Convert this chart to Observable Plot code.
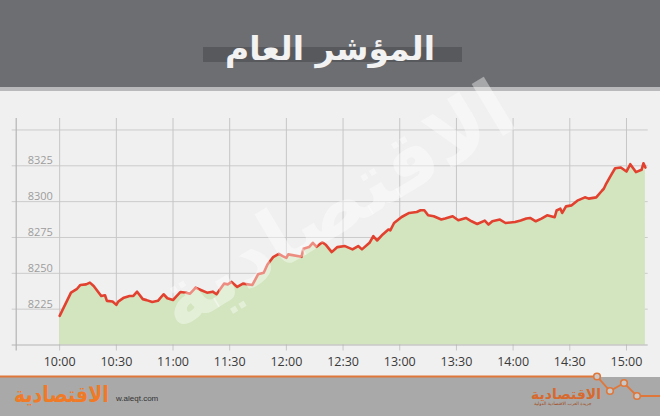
<!DOCTYPE html>
<html>
<head>
<meta charset="utf-8">
<script src="https://cdn.jsdelivr.net/npm/d3@7"></script>
<script src="https://cdn.jsdelivr.net/npm/@observablehq/plot@0.6"></script>
<style>
  html, body { margin: 0; padding: 0; background: #f0f0f0; }
  #page { position: relative; width: 660px; height: 416px; overflow: hidden; background: #f0f0f0; font-family: "Open Sans", "DejaVu Sans", sans-serif; }
  #header { position: absolute; left: 0; top: 0; width: 660px; height: 87px; background: #6d6e72; }
  #strip { position: absolute; left: 0; top: 87px; width: 660px; height: 4px; background: #b9b9bb; }
  #band { position: absolute; left: 203px; top: 47px; width: 259px; height: 15px; background: #58595c; }
  #title { position: absolute; left: 0; top: 27px; width: 660px; text-align: center; direction: rtl;
           font-family: "DejaVu Sans", sans-serif; font-weight: bold; font-size: 33px; color: #f2f2f2; line-height: 44px; }
  #chart { position: absolute; left: 0; top: 91px; }
  #watermark { position: absolute; left: 335px; top: 205px; transform: translate(-50%, -50%) rotate(-31deg);
               font-family: "DejaVu Sans", sans-serif; font-weight: bold; font-size: 80px; color: rgba(255,255,255,0.4);
               white-space: nowrap; direction: rtl; pointer-events: none; }
  #footer { position: absolute; left: 0; top: 377px; width: 660px; height: 39px; background: #a9a9a9; }
  #logoL { position: absolute; left: 14px; top: 380px; direction: rtl; font-family: "DejaVu Sans", sans-serif; font-weight: bold;
           font-size: 22px; color: #f07a26; line-height: 30px; transform: scaleX(0.86); transform-origin: 0 50%; }
  #url { position: absolute; left: 116px; top: 394px; font-family: "Liberation Sans", sans-serif; font-size: 8px; color: #333; }
  #logoR { position: absolute; left: 531px; top: 386px; direction: rtl; font-family: "DejaVu Sans", sans-serif; font-weight: bold;
           font-size: 14px; color: #d8692e; line-height: 16px; }
  #logoRsub { position: absolute; left: 534px; top: 401px; direction: rtl; font-family: "DejaVu Sans", sans-serif;
              font-size: 4.5px; color: #a04a20; line-height: 5px; }
  #deco { position: absolute; left: 0; top: 0; pointer-events: none; }
</style>
</head>
<body>
<div id="page">
  <div id="header"></div>
  <div id="strip"></div>
  <div id="band"></div>
  <div id="title">المؤشر العام</div>
  <div id="chart"></div>
  <div id="watermark">الاقتصادية</div>
  <div id="footer"></div>
  <div id="logoL">الاقتصادية</div>
  <div id="url">w.aleqt.com</div>
  <div id="logoR">الاقتصادية</div>
  <div id="logoRsub">جريدة العرب الاقتصادية الدولية</div>
  <svg id="deco" width="660" height="416">
    <polyline points="0,376.5 597,376.5 610,391 624,383 637,396 660,396" fill="none" stroke="#e0773a" stroke-width="1.8"/>
    <circle cx="597" cy="376.5" r="3.3" fill="#c9c9c9" stroke="#e0773a" stroke-width="1.6"/>
    <circle cx="610" cy="391" r="3.3" fill="#c9c9c9" stroke="#e0773a" stroke-width="1.6"/>
    <circle cx="624" cy="383" r="3.3" fill="#c9c9c9" stroke="#e0773a" stroke-width="1.6"/>
    <circle cx="637" cy="396" r="3.3" fill="#c9c9c9" stroke="#e0773a" stroke-width="1.6"/>
  </svg>
</div>
<script>
// ---- data ----
const times = ["10:00","10:06","10:09","10:11","10:14","10:16","10:18","10:22","10:24","10:25","10:28","10:30",
  "10:31","10:34","10:37","10:39","10:41","10:44","10:46","10:49","10:52","10:55","10:57","11:00",
  "11:02","11:04","11:07","11:09","11:12","11:15","11:18","11:21","11:23","11:27","11:29","11:31",
  "11:34","11:37","11:42","11:45","11:48","11:50","11:53","11:56","11:58","12:00","12:01","12:08",
  "12:09","12:12","12:14","12:16","12:19","12:21","12:24","12:27","12:31","12:35","12:38","12:40",
  "12:44","12:46","12:48","12:51","12:54","12:55","12:57","13:01","13:05","13:09","13:11","13:13",
  "13:15","13:18","13:22","13:24","13:28","13:31","13:35","13:38","13:41","13:45","13:47","13:49",
  "13:53","13:56","14:01","14:04","14:07","14:09","14:12","14:15","14:18","14:22","14:23","14:25",
  "14:26","14:28","14:31","14:34","14:38","14:40","14:44","14:47","14:48","14:49","14:52","14:54",
  "14:57","15:00","15:02","15:05","15:08","15:09","15:10"];
const values = [8220.3,8236.5,8238.9,8241.9,8242.3,8243.5,8241.2,8234.2,8234.7,8230.8,8230.3,8228,
  8230.3,8233,8234.2,8234.2,8237.2,8232,8231.3,8230,8230.8,8235.4,8232.6,8231.4,
  8234.2,8237,8236.5,8235.8,8240,8238.2,8236.5,8237.2,8235.4,8242.8,8242.3,8244,
  8240.5,8242.8,8241.9,8249.3,8250.4,8256.2,8261.3,8263.6,8262,8260.8,8263.2,8261.5,
  8267.1,8268.3,8271.3,8268.5,8271.7,8269.7,8264.8,8268.3,8269,8266.7,8269,8266.7,
  8271.3,8275.9,8272.9,8277.1,8280.6,8279.9,8285.1,8289.3,8292.1,8292.8,8294,8294,
  8290.5,8289.8,8287.5,8288.2,8289.8,8287,8288.6,8286.3,8284.4,8286.8,8284,8286.3,
  8287.5,8285.1,8285.8,8286.8,8288.2,8288.6,8286.3,8288.2,8290.5,8289.1,8293.8,8295.1,
  8292.1,8296.7,8297.4,8300.7,8303,8302.1,8303,8307.6,8309,8311.8,8318.8,8323.3,
  8323.8,8321,8326.1,8320.6,8322.2,8326.8,8323.8];
const xTickLabels = ["10:00","10:30","11:00","11:30","12:00","12:30","13:00","13:30","14:00","14:30","15:00"];
const yGridValues = [8225, 8250, 8275, 8300, 8325, 8350];
const yTickLabels = [8225, 8250, 8275, 8300, 8325];
const yMin = 8200, yMax = 8358;
const xStart = "9:37", xEnd = "15:11:30";

// ---- helpers ----
function toDate(s) {
  const p = s.split(":").map(Number);
  return new Date(2020, 0, 1, p[0], p[1], p[2] || 0);
}
const data = times.map((t, i) => ({ time: toDate(t), value: values[i] }));
const xTicks = xTickLabels.map(s => ({ date: toDate(s), label: s }));
const x0 = toDate(xStart);

const chart = Plot.plot({
  width: 660,
  height: 286,
  marginLeft: 15.7,
  marginRight: 12.3,
  marginTop: 27,
  marginBottom: 32.5,
  style: { background: "transparent", overflow: "visible" },
  x: { type: "time", domain: [x0, toDate(xEnd)], axis: null },
  y: { domain: [yMin, yMax], axis: null },
  marks: [
    Plot.ruleY(yGridValues, { stroke: "#cbcbcb", strokeWidth: 1, insetLeft: -4 }),
    Plot.ruleX(xTicks, { x: "date", stroke: "#c6c6c6", strokeWidth: 1, insetBottom: -6 }),
    Plot.areaY(data, { x: "time", y1: yMin, y2: "value", fill: "#d3e5bf", curve: "linear" }),
    Plot.line(data, { x: "time", y: "value", stroke: "#e2412f", strokeWidth: 2.6, strokeLinejoin: "round", curve: "linear" }),
    Plot.ruleY([yMin], { stroke: "#b4b4b4", strokeWidth: 1.2, insetLeft: -4 }),
    Plot.ruleX([x0], { stroke: "#b4b4b4", strokeWidth: 1.2, insetBottom: -6 }),
    Plot.text(yTickLabels, { x: x0, y: d => d, text: d => String(d), dx: 11.5, dy: -5, textAnchor: "start",
      fontSize: 11, fill: "#9d9d9d", fontFamily: "Open Sans, sans-serif" }),
    Plot.text(xTicks, { x: "date", y: yMin, text: "label", dy: 16.5, fontSize: 12.5, fill: "#3a3a3a",
      fontFamily: "Open Sans, sans-serif" })
  ]
});
document.getElementById("chart").appendChild(chart);
</script>
</body>
</html>
